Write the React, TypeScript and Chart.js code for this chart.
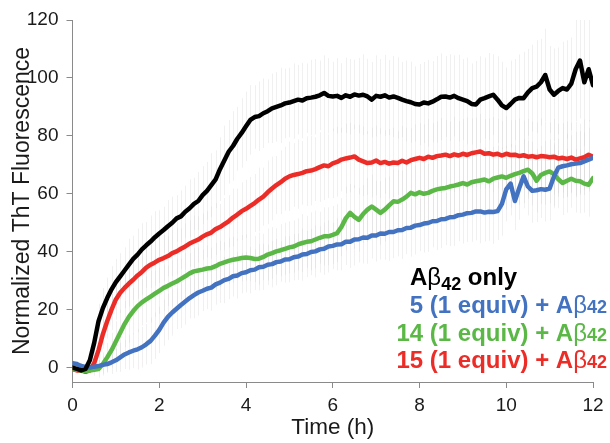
import React, { useEffect, useRef } from "react";
import { Chart, registerables } from "chart.js";

Chart.register(...registerables);

// Time grid (h)
const times = [
  0, 0.1, 0.2, 0.3, 0.4, 0.5, 0.6, 0.7, 0.8, 0.9,
  1, 1.1, 1.2, 1.3, 1.4, 1.5, 1.6, 1.7, 1.8, 1.9,
  2, 2.1, 2.2, 2.3, 2.4, 2.5, 2.6, 2.7, 2.8, 2.9,
  3, 3.1, 3.2, 3.3, 3.4, 3.5, 3.6, 3.7, 3.8, 3.9,
  4, 4.1, 4.2, 4.3, 4.4, 4.5, 4.6, 4.7, 4.8, 4.9,
  5, 5.1, 5.2, 5.3, 5.4, 5.5, 5.6, 5.7, 5.8, 5.9,
  6, 6.1, 6.2, 6.3, 6.4, 6.5, 6.6, 6.7, 6.8, 6.9,
  7, 7.1, 7.2, 7.3, 7.4, 7.5, 7.6, 7.7, 7.8, 7.9,
  8, 8.1, 8.2, 8.3, 8.4, 8.5, 8.6, 8.7, 8.8, 8.9,
  9, 9.1, 9.2, 9.3, 9.4, 9.5, 9.6, 9.7, 9.8, 9.9,
  10, 10.1, 10.2, 10.3, 10.4, 10.5, 10.6, 10.7, 10.8, 10.9,
  11, 11.1, 11.2, 11.3, 11.4, 11.5, 11.6, 11.7, 11.8, 11.9,
  12,
];

const abOnly = [
  0, -0.5, -1, -0.5, 2.5, 8.5, 16, 20.5, 24, 27,
  29.5, 31.5, 33.5, 35.5, 37.5, 39, 40.8, 42.2, 43.5, 45,
  46.3, 47.5, 48.8, 50, 51.5, 52.2, 53.8, 55, 56.5, 57.5,
  59.5, 61, 63, 65, 68.5, 71.5, 74.5, 76.5, 79, 81,
  83.3, 85.5, 86.5, 86.8, 87.8, 88.5, 89.5, 90, 90.5, 91.2,
  91.5, 92, 92.5, 92.2, 93, 93.2, 93.5, 94, 94.8, 93.8,
  93.6, 93.8, 93.1, 94, 93.5, 94.3, 93.9, 94.2, 93.6, 92.5,
  93.8, 93.5, 94, 93.2, 93.6, 93.1, 92.5, 92, 91.6, 91,
  90.8, 91.5, 91.2, 91.8, 92.6, 93.5, 93.6, 93.2, 93.8, 93,
  92.5, 92, 91, 90.8, 92.5, 93, 93.6, 94.2, 92.5, 90.5,
  89.6, 91, 92.5, 93.1, 93, 95, 96.5, 97, 98.5, 101,
  96, 94.2, 95.5, 96.5, 96, 98, 103, 106, 98.5, 103,
  97.5,
];

const cmpd5 = [
  1.5, 1.2, 0.5, 0.2, 0, 0.3, 0.5, 0.9, 1.2, 1.8,
  2.5, 3.5, 4.5, 5.2, 5.8, 6.3, 7, 8, 9.2, 11,
  13, 15.5, 17.5, 19, 20.3, 21.6, 22.8, 24, 25, 25.9,
  26.5, 27.2, 27.6, 28.7, 29.3, 30.2, 30.6, 31.5, 31.8, 32.6,
  32.9, 33.6, 33.8, 34.6, 34.8, 35.5, 35.7, 36.4, 36.6, 37.3,
  37.4, 38.1, 38.3, 39, 39.2, 39.9, 40.1, 40.8, 41, 41.8,
  42, 42.5, 42.6, 43.4, 43.4, 44.2, 44.3, 44.9, 44.8, 45.6,
  45.6, 46.3, 46.2, 46.8, 46.8, 47.4, 47.5, 48.2, 48.3, 49,
  49.2, 49.7, 49.9, 50.5, 50.6, 51.2, 51.3, 51.9, 52, 52.6,
  52.8, 53.3, 53.4, 53.9, 53.9, 53.5, 53.8, 53.7, 54, 56.5,
  61.5, 63.5, 57.5, 62, 66, 62.5, 61, 61.2, 61.6, 61.4,
  61.8, 66, 69, 69.5, 69.8, 70.2, 70.4, 70.6, 71.2, 71.8,
  72.4,
];

const cmpd14 = [
  -0.5, -0.8, -1, -1.2, -1, -0.8, -0.5, 1.2, 3.5, 6,
  9, 12, 15, 17.5, 19.5, 21.2, 22.5, 23.5, 24.5, 25.5,
  26.5, 27.5, 28.2, 29, 29.7, 30.6, 31.5, 32.5, 33.2, 33.5,
  33.8, 34.2, 34.4, 35, 35.8, 36.3, 36.8, 37.2, 37.5, 37.8,
  38, 37.8, 37.5, 37.6, 38.2, 39, 39.5, 40.1, 40.5, 41,
  41.5, 41.8, 42.5, 43, 43.4, 43.6, 44.2, 44.8, 45.3, 45.3,
  45.8, 46.4, 48.5, 51.5, 53.4, 52, 51, 53, 54.5, 55.6,
  54.5, 53.4, 54.5, 56, 57.4, 57.2, 58, 59, 60.3, 59.8,
  60.5, 60, 60.3, 61, 61.5, 61.8, 62, 62.5, 62.8, 63.2,
  63.7, 63.2, 64, 64.3, 64.6, 64.9, 64.3, 65.2, 65.6, 66,
  65.5, 66.2, 66.8, 67.2, 67.8, 68.3, 67, 64.5, 66.5, 67.2,
  67.7, 66.8, 65, 63.7, 64.5, 65.2, 64.5, 64.3, 63.5, 63.1,
  65.4,
];

const cmpd15 = [
  -0.5, -1, -1, -1.5, -1, 1.5, 6, 11.5, 16, 20,
  23.5, 25.8, 27.5, 29, 30.3, 31.8, 33, 34.5, 35.5, 36.3,
  37.2, 37.8, 38.5, 39.5, 40.1, 41, 41.8, 42.8, 43.5, 44.2,
  45.2, 46, 46.6, 47.8, 48.5, 49.5, 50.5, 51.8, 52.8, 54,
  54.8, 55.8, 56.8, 58, 59, 60.5, 61.8, 63, 64, 65.2,
  66, 66.5, 66.8, 67.2, 67.8, 68, 68.5, 69.2, 69.8, 69.5,
  70.5, 71, 71.8, 72.2, 72.5, 72.9, 71.8, 71.2, 70.6, 70.8,
  71.5, 70.6, 71, 70.4, 70.8, 70.6, 71.4, 70.8, 71.6, 72,
  72.4, 72, 72.8, 72.4, 73, 73.2, 73.5, 73, 73.6, 73.2,
  73.8, 73.4, 74, 74.3, 74.6, 73.8, 74, 73.5, 73.8, 73.2,
  73.8, 73.4, 73.5, 73, 73.3, 72.8, 73, 72.6, 73, 72.9,
  72.6, 72.8, 72.2, 72.4, 72, 72.5, 71.8, 72.2, 72.6, 73.5,
  72.8,
];

// Error bar half-lengths (SD)
const errAbOnly = [
  1, 1, 1, 1, 2, 4, 6, 7, 7, 8,
  8, 8, 8, 9, 8, 9, 9, 8, 9, 9,
  8, 8, 9, 9, 8, 9, 9, 10, 9, 10,
  10, 10, 11, 10, 11, 12, 11, 12, 11, 12,
  12, 12, 11, 12, 12, 11, 12, 12, 13, 12,
  12, 13, 12, 13, 12, 13, 13, 12, 13, 13,
  12, 13, 12, 13, 13, 12, 13, 14, 13, 13,
  14, 13, 14, 13, 14, 14, 13, 14, 14, 13,
  14, 14, 15, 14, 15, 15, 14, 15, 14, 15,
  14, 15, 14, 15, 15, 14, 15, 14, 15, 15,
  14, 15, 14, 15, 16, 15, 15, 16, 15, 16,
  15, 16, 15, 16, 17, 16, 18, 20, 22, 18,
  20,
];
const err5 = [
  1, 1, 1, 1, 1, 2, 2, 3, 3, 4,
  4, 5, 5, 6, 6, 7, 7, 7, 8, 8,
  8, 8, 8, 8, 7, 8, 8, 7, 8, 8,
  7, 7, 8, 7, 7, 8, 7, 7, 8, 7,
  7, 8, 7, 8, 8, 7, 8, 8, 7, 8,
  8, 8, 8, 9, 8, 8, 9, 8, 9, 9,
  8, 9, 9, 8, 9, 9, 8, 9, 9, 8,
  9, 9, 9, 10, 9, 9, 10, 9, 10, 10,
  9, 10, 10, 9, 10, 10, 9, 10, 10, 9,
  10, 10, 10, 10, 11, 10, 10, 11, 10, 11,
  11, 11, 10, 11, 11, 10, 11, 11, 10, 11,
  11, 11, 10, 11, 11, 10, 11, 11, 10, 11,
  11,
];
const err14 = [
  1, 1, 1, 1, 1, 2, 3, 4, 5, 6,
  7, 8, 8, 9, 8, 9, 8, 8, 9, 8,
  8, 8, 7, 8, 8, 7, 8, 7, 8, 8,
  7, 8, 7, 8, 8, 7, 8, 8, 7, 8,
  8, 8, 8, 9, 8, 9, 9, 8, 9, 9,
  9, 9, 9, 10, 9, 10, 10, 9, 10, 10,
  10, 10, 10, 11, 10, 11, 11, 10, 11, 11,
  10, 11, 11, 10, 11, 11, 10, 11, 11, 10,
  11, 11, 10, 11, 11, 10, 11, 11, 10, 11,
  11, 11, 11, 10, 11, 11, 10, 11, 11, 10,
  11, 11, 10, 11, 11, 10, 11, 11, 10, 11,
  11, 11, 10, 11, 11, 10, 11, 11, 10, 11,
  11,
];
const err15 = [
  1, 1, 1, 1, 1, 2, 4, 5, 6, 7,
  7, 7, 7, 8, 7, 8, 8, 7, 8, 8,
  8, 8, 7, 8, 8, 7, 8, 8, 9, 8,
  8, 8, 9, 9, 8, 9, 9, 10, 9, 10,
  10, 10, 10, 11, 10, 11, 11, 10, 11, 11,
  12, 11, 12, 11, 12, 12, 11, 12, 12, 11,
  12, 12, 11, 12, 12, 11, 12, 12, 11, 12,
  12, 12, 11, 12, 12, 11, 12, 12, 11, 12,
  12, 12, 13, 12, 12, 13, 12, 12, 13, 12,
  12, 13, 12, 12, 13, 12, 12, 13, 12, 12,
  13, 12, 12, 13, 12, 13, 12, 12, 13, 12,
  12, 13, 12, 12, 13, 12, 13, 12, 13, 12,
  13,
];

const seriesLabels = [
  "A\u03b242 only",
  "5 (1 equiv) + A\u03b242",
  "14 (1 equiv) + A\u03b242",
  "15 (1 equiv) + A\u03b242",
];
const seriesColors = ["#000000", "#4272C0", "#5BB847", "#EC2D27"];
const seriesValues = [abOnly, cmpd5, cmpd14, cmpd15];
const seriesErrors = [errAbOnly, err5, err14, err15];

const xTicks = [0, 2, 4, 6, 8, 10, 12];
const yTicks = [0, 20, 40, 60, 80, 100, 120];
const xTitle = "Time (h)";
const yTitle = "Normalized ThT Fluorescence";

const FONT = '"Liberation Sans", Arial, sans-serif';

const errorBarPlugin = {
  id: "errorBars",
  beforeDatasetsDraw(chart: any) {
    const { ctx, chartArea, scales } = chart;
    const xs = scales.x;
    const ys = scales.y;
    ctx.save();
    ctx.beginPath();
    ctx.rect(chartArea.left, chartArea.top, chartArea.right - chartArea.left, chartArea.bottom - chartArea.top);
    ctx.clip();
    ctx.strokeStyle = "rgba(200,200,200,0.28)";
    ctx.lineWidth = 1;
    seriesValues.forEach((vals, s) => {
      const errs = seriesErrors[s];
      vals.forEach((v, i) => {
        const px = Math.round(xs.getPixelForValue(times[i])) + 0.5;
        ctx.beginPath();
        ctx.moveTo(px, ys.getPixelForValue(v + errs[i]));
        ctx.lineTo(px, ys.getPixelForValue(v - errs[i]));
        ctx.stroke();
      });
    });
    ctx.restore();
  },
};

function drawRuns(ctx: CanvasRenderingContext2D, runs: any[], x: number, baseline: number, align: string) {
  const widths = runs.map((r) => {
    ctx.font = r.font;
    return ctx.measureText(r.text).width;
  });
  const total = widths.reduce((a, b) => a + b, 0);
  let cx = align === "right" ? x - total : x;
  runs.forEach((r, i) => {
    ctx.font = r.font;
    ctx.fillStyle = r.color;
    ctx.fillText(r.text, cx, baseline + (r.dy || 0));
    cx += widths[i];
  });
}

const legendPlugin = {
  id: "textLegend",
  afterDraw(chart: any) {
    const ctx = chart.ctx as CanvasRenderingContext2D;
    ctx.save();
    ctx.textAlign = "left";
    ctx.textBaseline = "alphabetic";
    const bold = `bold 24px ${FONT}`;
    const beta = `normal 24px ${FONT}`;
    const small = `bold 18px ${FONT}`;
    {
      const label = seriesLabels[0];
      const idx = label.indexOf("\u03b2");
      const head = label.slice(0, idx);
      const sub = label.slice(idx + 1, idx + 3);
      const tail = label.slice(idx + 3);
      drawRuns(
        ctx,
        [
          { text: head, font: bold, color: seriesColors[0] },
          { text: "\u03b2", font: beta, color: seriesColors[0] },
          { text: sub, font: small, color: seriesColors[0], dy: 5 },
          { text: tail, font: bold, color: seriesColors[0] },
        ],
        410,
        285,
        "left"
      );
    }
    const baselines = [313, 341, 368];
    for (let k = 1; k < seriesLabels.length; k++) {
      const label = seriesLabels[k];
      const idx = label.indexOf("\u03b2");
      drawRuns(
        ctx,
        [
          { text: label.slice(0, idx), font: bold, color: seriesColors[k] },
          { text: "\u03b2", font: beta, color: seriesColors[k] },
          { text: label.slice(idx + 1), font: small, color: seriesColors[k] },
        ],
        607,
        baselines[k - 1],
        "right"
      );
    }
    ctx.restore();
  },
};

export default function App() {
  const ref = useRef<HTMLCanvasElement | null>(null);
  useEffect(() => {
    if (!ref.current) return;
    const datasets = seriesValues.map((vals, s) => ({
      label: seriesLabels[s],
      data: vals.map((v, i) => ({ x: times[i], y: v })),
      borderColor: seriesColors[s],
      backgroundColor: seriesColors[s],
      borderWidth: 4.5,
      pointRadius: 0,
      tension: 0,
      fill: false,
      borderJoinStyle: "round" as const,
      borderCapStyle: "round" as const,
    }));
    const chart = new Chart(ref.current, {
      type: "line",
      data: { datasets },
      options: {
        animation: false,
        responsive: false,
        devicePixelRatio: 1,
        layout: { padding: { top: 20, right: 17, bottom: 0, left: 0 } },
        plugins: { legend: { display: false }, tooltip: { enabled: false } },
        scales: {
          x: {
            type: "linear",
            min: 0,
            max: 12,
            afterBuildTicks: (s: any) => {
              s.ticks = xTicks.map((v) => ({ value: v }));
            },
            afterFit: (s: any) => {
              s.height = 61;
            },
            grid: { display: true, drawOnChartArea: false, drawTicks: true, tickLength: 6, color: "#8a8a8a" },
            border: { display: true, color: "#8a8a8a", width: 1 },
            ticks: { color: "#1a1a1a", font: { family: FONT, size: 19 }, padding: 6, maxRotation: 0 },
            title: { display: true, text: xTitle, color: "#1a1a1a", font: { family: FONT, size: 22.5 }, padding: { top: 0, bottom: 2 } },
          },
          y: {
            type: "linear",
            min: -5,
            max: 120,
            afterBuildTicks: (s: any) => {
              s.ticks = yTicks.map((v) => ({ value: v }));
            },
            afterFit: (s: any) => {
              s.width = 72.5;
            },
            grid: { display: true, drawOnChartArea: false, drawTicks: true, tickLength: 6, color: "#8a8a8a" },
            border: { display: true, color: "#8a8a8a", width: 1 },
            ticks: { color: "#1a1a1a", font: { family: FONT, size: 19 }, padding: 8 },
            title: { display: true, text: yTitle, color: "#1a1a1a", font: { family: FONT, size: 23 }, padding: { top: 9, bottom: 0 } },
          },
        },
      },
      plugins: [errorBarPlugin, legendPlugin],
    });
    return () => chart.destroy();
  }, []);
  return (
    <div style={{ position: "absolute", left: 0, top: 0, width: 610, height: 443, background: "#fff" }}>
      <canvas ref={ref} width={610} height={443} style={{ width: 610, height: 443, display: "block" }} />
    </div>
  );
}
